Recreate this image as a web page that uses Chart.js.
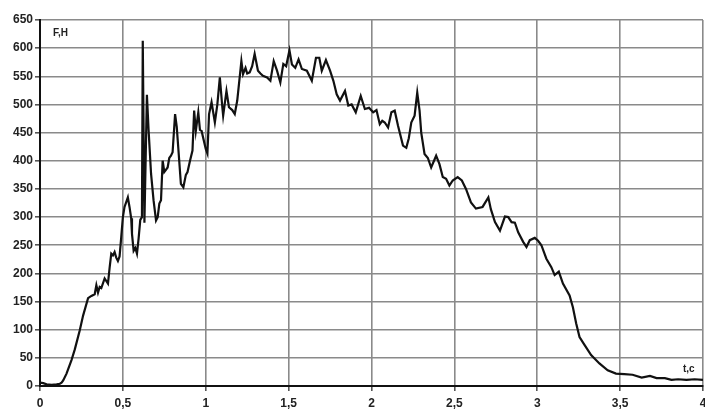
<!DOCTYPE html>
<html>
<head>
<meta charset="utf-8">
<script src="https://cdn.jsdelivr.net/npm/chart.js@4/dist/chart.umd.min.js"></script>
<style>
html,body{margin:0;padding:0;background:#fff;}
#wrap{width:705px;height:410px;position:relative;}
</style>
</head>
<body>
<div id="wrap"><canvas id="c" width="705" height="410"></canvas></div>
<script>
// time, s
const times = [
0.00,0.02,0.04,0.07,0.10,0.12,0.13,0.14,0.16,0.19,0.21,0.24,0.26,0.29,0.31,0.33,0.34,0.35,0.36,0.37,0.39,0.41,0.42,0.43,0.44,0.45,0.46,0.47,0.48,0.49,0.50,0.51,0.53,0.54,0.55,0.555,0.565,0.575,0.585,0.595,0.605,0.615,0.62,0.63,0.645,0.655,0.67,0.685,0.70,0.71,0.72,0.73,0.74,0.75,0.77,0.78,0.79,0.80,0.815,0.825,0.835,0.85,0.865,0.88,0.89,0.905,0.92,0.93,0.94,0.955,0.965,0.975,0.985,1.00,1.01,1.02,1.035,1.055,1.07,1.085,1.10,1.105,1.125,1.14,1.16,1.175,1.19,1.215,1.225,1.24,1.25,1.265,1.28,1.295,1.315,1.33,1.345,1.37,1.39,1.41,1.43,1.45,1.468,1.485,1.505,1.52,1.54,1.56,1.58,1.61,1.64,1.665,1.685,1.70,1.725,1.75,1.77,1.79,1.81,1.84,1.86,1.88,1.905,1.935,1.96,1.985,2.01,2.03,2.05,2.065,2.08,2.10,2.12,2.14,2.16,2.19,2.21,2.225,2.24,2.26,2.276,2.29,2.30,2.32,2.34,2.36,2.39,2.41,2.43,2.45,2.47,2.49,2.52,2.545,2.57,2.60,2.63,2.67,2.705,2.72,2.745,2.775,2.805,2.825,2.845,2.865,2.885,2.915,2.935,2.955,2.985,3.005,3.025,3.055,3.085,3.105,3.13,3.155,3.195,3.215,3.235,3.255,3.285,3.325,3.375,3.425,3.475,3.525,3.575,3.63,3.68,3.72,3.77,3.81,3.85,3.90,3.95,4.00
];
// force, N
const forces = [
6,5,3,2,3,4,6,10,22,46,65,99,125,156,160,163,179,166,176,174,191,182,210,235,232,238,228,222,230,264,300,318,335,318,298,270,240,245,235,262,295,300,613,290,517,455,377,330,294,300,324,330,400,380,388,405,409,415,483,460,420,359,353,375,380,400,418,489,453,486,455,453,440,421,413,483,504,468,500,548,495,480,524,495,490,483,507,577,554,565,555,557,568,590,560,555,551,548,542,577,560,539,572,568,596,571,565,580,563,560,542,583,583,560,579,560,542,518,507,524,498,500,486,515,492,494,486,490,465,471,468,459,486,489,462,427,423,440,468,480,521,489,450,412,405,388,409,394,371,368,356,365,371,365,350,326,315,318,335,314,291,276,301,300,291,290,273,256,247,259,263,258,250,226,211,197,203,182,161,140,111,87,73,55,40,28,22,21,20,15,18,14,14,11,12,11,12,11
];
const xTicks = [0,0.5,1,1.5,2,2.5,3,3.5,4];
const yTicks = [0,50,100,150,200,250,300,350,400,450,500,550,600,650];
const yAxisTitle = 'F,H';
const xAxisTitle = 't,c';

const points = times.map((t,i)=>({x:t,y:forces[i]}));
const FONT = '"Liberation Sans", Arial, sans-serif';

const labelsPlugin = {
  id:'axisNames',
  afterDraw(chart){
    const ctx = chart.ctx;
    ctx.save();
    ctx.fillStyle = '#222';
    ctx.font = 'bold 10px ' + FONT;
    ctx.textBaseline = 'middle';
    ctx.textAlign = 'left';
    ctx.fillText(yAxisTitle, 53, 33);
    ctx.fillText(xAxisTitle, 683, 369);
    ctx.restore();
  }
};
const bgPlugin = {
  id:'bg',
  beforeDraw(chart){
    const ctx = chart.ctx;
    ctx.save();
    ctx.fillStyle = '#fff';
    ctx.fillRect(0,0,chart.width,chart.height);
    ctx.restore();
  }
};

new Chart(document.getElementById('c'), {
  type:'line',
  data:{datasets:[{
    data:points,
    borderColor:'#111',
    borderWidth:2.2,
    pointRadius:0,
    tension:0,
    fill:false
  }]},
  options:{
    responsive:false,
    animation:false,
    layout:{padding:{top:20,right:2,left:0,bottom:0}},
    plugins:{legend:{display:false},tooltip:{enabled:false}},
    scales:{
      x:{
        type:'linear', min:0, max:4,
        afterBuildTicks(scale){ scale.ticks = xTicks.map(v=>({value:v})); },
        afterFit(scale){ scale.height = 24; scale.paddingRight = 0; scale.paddingLeft = 0; },
        ticks:{
          autoSkip:false, maxRotation:0, padding:5,
          color:'#222', font:{family:FONT, size:12, weight:'bold'},
          callback:v=>String(v).replace('.',',')
        },
        grid:{color:'#8a8a8a', lineWidth:1.6, tickLength:5, tickColor:'#555'},
        border:{color:'#111', width:2}
      },
      y:{
        min:0, max:650,
        afterBuildTicks(scale){ scale.ticks = yTicks.map(v=>({value:v})); },
        afterFit(scale){ scale.width = 40; scale.paddingTop = 0; scale.paddingBottom = 0; },
        ticks:{
          autoSkip:false, padding:2,
          color:'#222', font:{family:FONT, size:12, weight:'bold'}
        },
        grid:{color:'#8a8a8a', lineWidth:1.6, tickLength:5, tickColor:'#555'},
        border:{color:'#111', width:2}
      }
    }
  },
  plugins:[bgPlugin, labelsPlugin]
});
</script>
</body>
</html>
